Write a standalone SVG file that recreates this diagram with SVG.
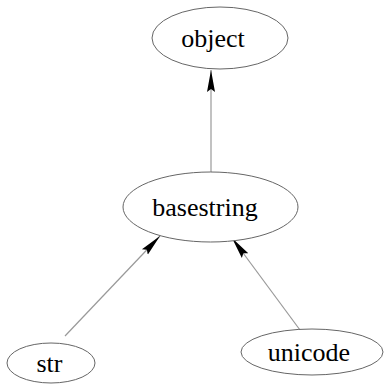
<svg xmlns="http://www.w3.org/2000/svg" width="385" height="385" viewBox="0 0 385 385">
<style>
.node ellipse{fill:#fff;stroke:#666;stroke-width:1}
.edge{stroke:#999;stroke-width:1.2;fill:none;marker-end:url(#ah)}
.lbl{font-family:'Liberation Serif','DejaVu Serif',serif;font-size:26px;text-anchor:middle;fill:#000}
</style>
<defs>
<marker id="ah" markerUnits="userSpaceOnUse" markerWidth="24" markerHeight="12" viewBox="0 -6 24 12" refX="22" refY="0" orient="auto">
<path d="M0,-4 L22,0 L0,4 L3,0 Z" fill="#000"/>
</marker>
</defs>
<rect width="385" height="385" fill="#fff"/>
<g id="edges">
<path class="edge" d="M211,172 L211,70"/>
<path class="edge" d="M65,336 L160,236"/>
<path class="edge" d="M300,330 L232,238"/>
</g>
<g id="object" class="node"><ellipse cx="220" cy="38" rx="68" ry="31"/><text class="lbl" x="213" y="47">object</text></g>
<g id="basestring" class="node"><ellipse cx="210.5" cy="207" rx="87.5" ry="35"/><text class="lbl" x="205" y="216">basestring</text></g>
<g id="str" class="node"><ellipse cx="51" cy="363" rx="44" ry="20"/><text class="lbl" x="49.5" y="372">str</text></g>
<g id="unicode" class="node"><ellipse cx="312" cy="352" rx="71" ry="23"/><text class="lbl" x="309" y="361">unicode</text></g>
</svg>
